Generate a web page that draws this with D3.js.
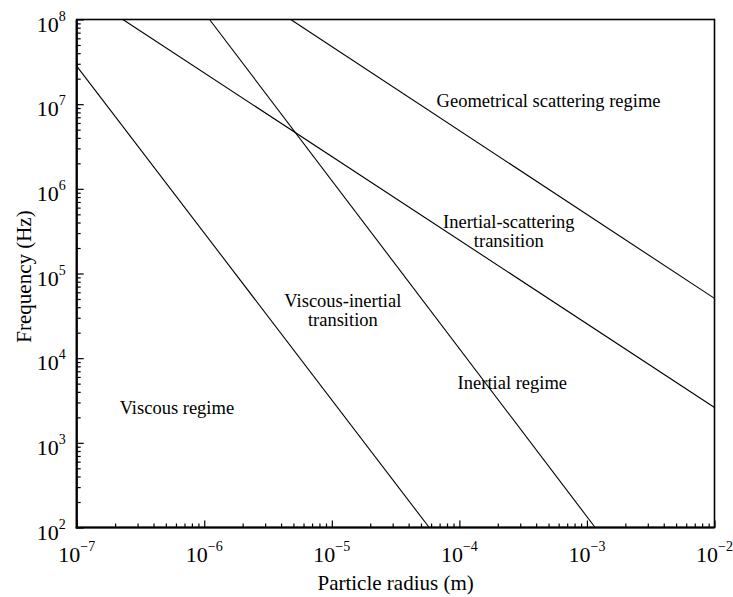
<!DOCTYPE html>
<html>
<head>
<meta charset="utf-8">
<script src="https://cdn.jsdelivr.net/npm/d3@7"></script>
<style>
  html, body { margin: 0; padding: 0; background: #fff; }
  svg text { font-family: "Liberation Serif", "Times New Roman", serif; fill: #000; }
</style>
</head>
<body>
<svg id="chart" width="733" height="597"></svg>
<script>
// ---- data ----
const xTickExponents = [-7, -6, -5, -4, -3, -2];
const yTickExponents = [2, 3, 4, 5, 6, 7, 8];
const xAxisTitle = "Particle radius (m)";
const yAxisTitle = "Frequency (Hz)";

// boundary lines: [radius (m), frequency (Hz)]
const viscousBoundary     = [[1e-7, 2.82e7], [5.8e-5, 1e2]];
const viscousInertial     = [[1.10e-6, 1e8], [1.16e-3, 1e2]];
const inertialScattering  = [[2.30e-7, 1e8], [1e-2, 2.62e3]];
const geometricalBoundary = [[4.76e-6, 1e8], [1e-2, 5.08e4]];
const boundaries = [viscousBoundary, viscousInertial, inertialScattering, geometricalBoundary];

// region labels: lines of text, anchored (centre, first baseline) at data coords
const labelTexts = [
  ["Geometrical scattering regime"],
  ["Inertial-scattering", "transition"],
  ["Viscous-inertial", "transition"],
  ["Inertial regime"],
  ["Viscous regime"]
];
const labelRadius = [5.0e-4, 2.44e-4, 1.22e-5, 2.6e-4, 6.1e-7];
const labelFreq   = [9.25e6, 3.45e5, 4.05e4, 4.3e3, 2.18e3];

// ---- layout ----
const svg = d3.select("#chart");
const mLeft = 76.7, mRight = 714.5, mTop = 19.5, mBottom = 527.5;

const x = d3.scaleLog().domain([1e-7, 1e-2]).range([mLeft, mRight]);
const y = d3.scaleLog().domain([1e2, 1e8]).range([mBottom, mTop]);

const majorX = xTickExponents.map(e => Math.pow(10, e));
const majorY = yTickExponents.map(e => Math.pow(10, e));
const minorX = [], minorY = [];
for (let i = 0; i < xTickExponents.length - 1; i++)
  for (let m = 2; m <= 9; m++) minorX.push(m * Math.pow(10, xTickExponents[i]));
for (let i = 0; i < yTickExponents.length - 1; i++)
  for (let m = 2; m <= 9; m++) minorY.push(m * Math.pow(10, yTickExponents[i]));

// minor + major ticks (inward)
function tickAxis(axis, transform, values, size) {
  const g = svg.append("g").attr("transform", transform)
    .call(axis.tickValues(values).tickSize(-size).tickFormat(""));
  g.select(".domain").remove();
  g.selectAll(".tick line").attr("stroke", "#000").attr("stroke-width", 1.2);
}
tickAxis(d3.axisBottom(x), `translate(0,${mBottom})`, minorX, 4);
tickAxis(d3.axisBottom(x), `translate(0,${mBottom})`, majorX, 7);
tickAxis(d3.axisLeft(y), `translate(${mLeft},0)`, minorY, 4);
tickAxis(d3.axisLeft(y), `translate(${mLeft},0)`, majorY, 7);

// frame
svg.append("rect")
  .attr("x", mLeft).attr("y", mTop)
  .attr("width", mRight - mLeft).attr("height", mBottom - mTop)
  .attr("fill", "none").attr("stroke", "#000").attr("stroke-width", 1.6);
svg.append("line").attr("x1", mLeft).attr("x2", mLeft).attr("y1", mTop).attr("y2", mBottom + 1)
  .attr("stroke", "#000").attr("stroke-width", 2.2);
svg.append("line").attr("x1", mLeft - 1).attr("x2", mRight).attr("y1", mBottom).attr("y2", mBottom)
  .attr("stroke", "#000").attr("stroke-width", 2.2);

// boundary lines
const line = d3.line().x(d => x(d[0])).y(d => y(d[1]));
svg.append("g").selectAll("path").data(boundaries).join("path")
  .attr("d", line).attr("fill", "none").attr("stroke", "#000").attr("stroke-width", 1.1);

// tick labels with superscript exponents
const xl = svg.append("g").selectAll("text").data(xTickExponents).join("text")
  .attr("x", d => x(Math.pow(10, d))).attr("y", mBottom + 34)
  .attr("text-anchor", "middle").attr("font-size", 22);
xl.append("tspan").text("10");
xl.append("tspan").attr("dy", -11).attr("font-size", 14).text(d => d < 0 ? "\u2212" + (-d) : d);

const yl = svg.append("g").selectAll("text").data(yTickExponents).join("text")
  .attr("x", mLeft - 11).attr("y", d => y(Math.pow(10, d)) + 12)
  .attr("text-anchor", "end").attr("font-size", 22);
yl.append("tspan").text("10");
yl.append("tspan").attr("dy", -11).attr("font-size", 14).text(d => d);

// axis titles
svg.append("text").attr("x", (mLeft + mRight) / 2).attr("y", 590)
  .attr("text-anchor", "middle").attr("font-size", 21).text(xAxisTitle);
svg.append("text").attr("transform", `translate(31,${(mTop + mBottom) / 2 + 3}) rotate(-90)`)
  .attr("text-anchor", "middle").attr("font-size", 21).text(yAxisTitle);

// region labels
const lbl = svg.append("g").selectAll("text").data(labelTexts).join("text")
  .attr("x", (d, i) => x(labelRadius[i])).attr("y", (d, i) => y(labelFreq[i]))
  .attr("text-anchor", "middle").attr("font-size", 18.5);
lbl.selectAll("tspan").data((d, i) => d.map(t => ({ t, i }))).join("tspan")
  .attr("x", d => x(labelRadius[d.i]))
  .attr("dy", (d, j) => j === 0 ? 0 : 19)
  .text(d => d.t);
</script>
</body>
</html>
